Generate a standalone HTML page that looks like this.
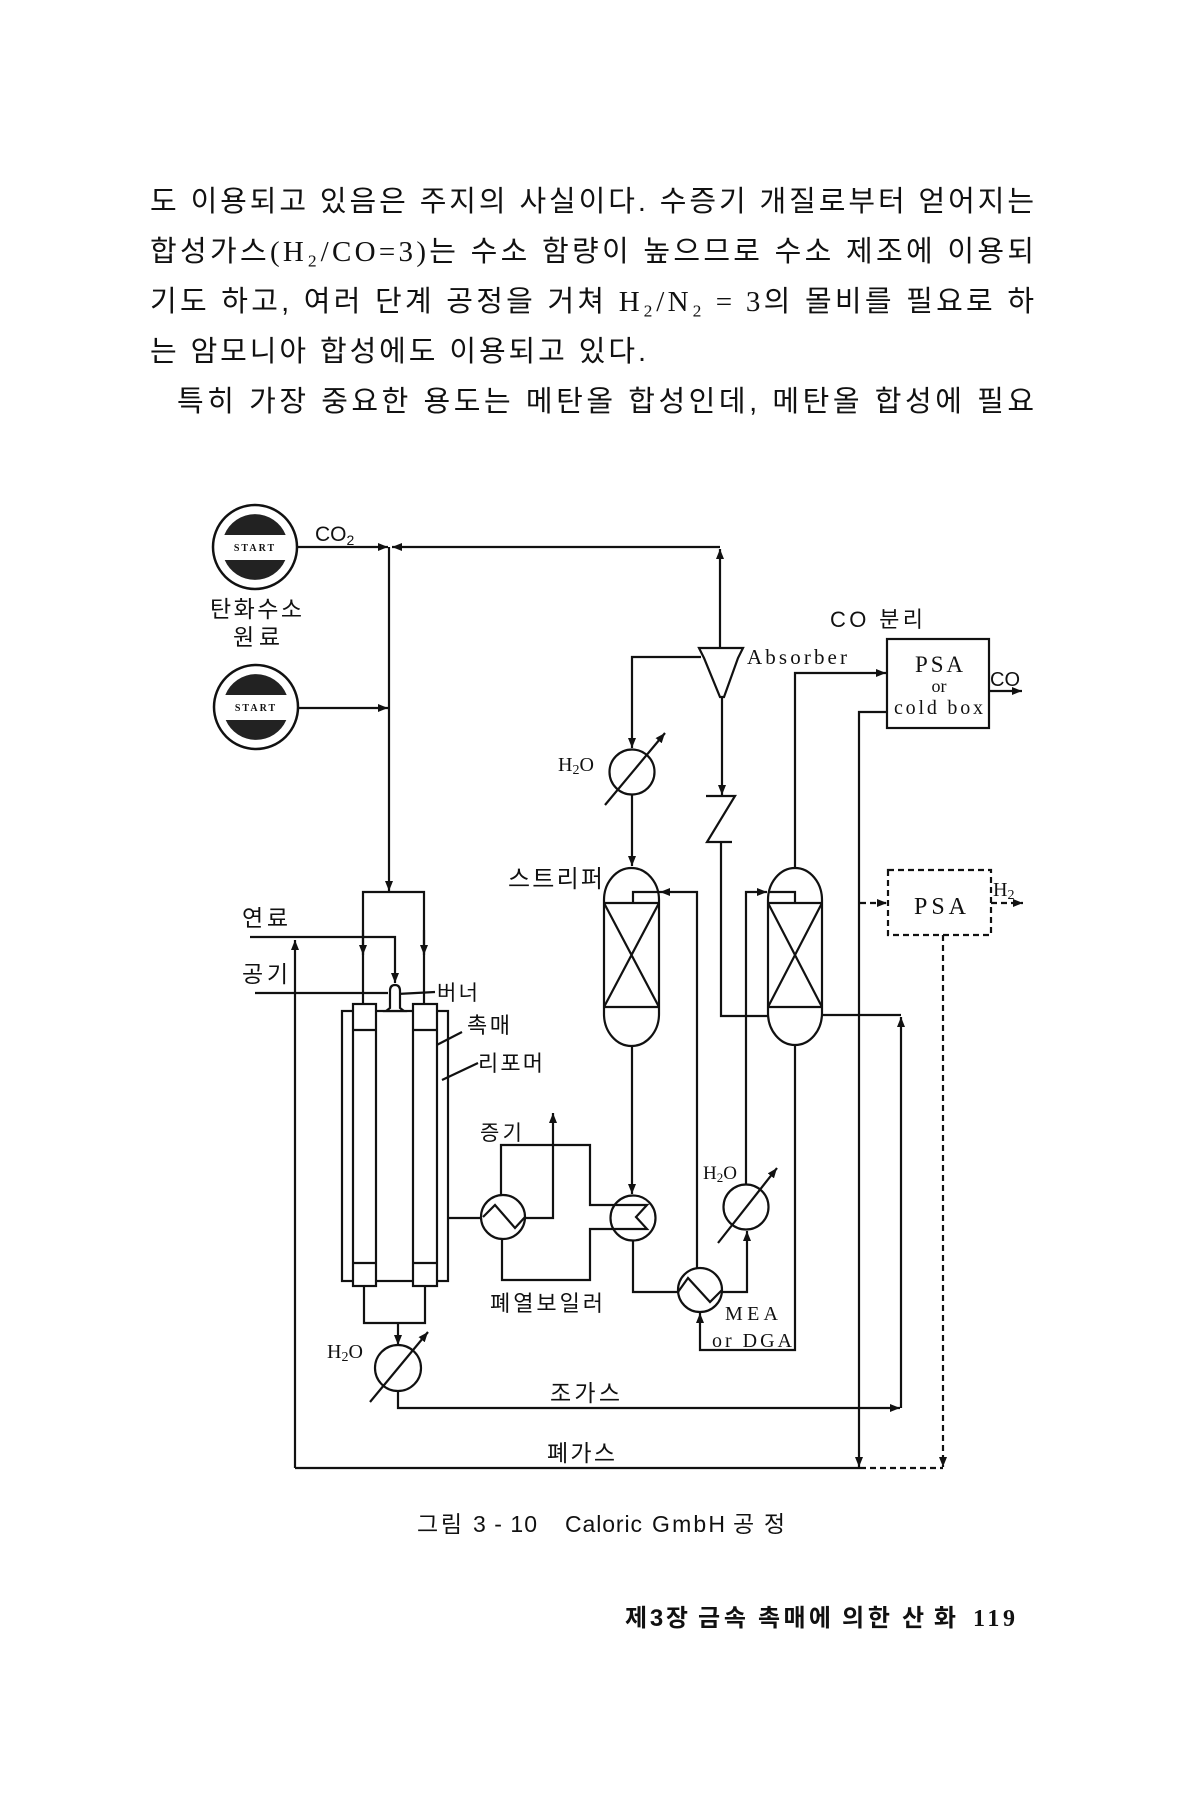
<!DOCTYPE html>
<html><head><meta charset="utf-8">
<style>
html,body{margin:0;padding:0;background:#fff;}
svg{display:block;}
.k{font-family:"Liberation Sans","Noto Sans CJK KR",sans-serif;}
.s{font-family:"Liberation Serif","Noto Serif CJK SC",serif;}
</style></head>
<body>
<svg width="1200" height="1800" viewBox="0 0 1200 1800" xmlns="http://www.w3.org/2000/svg">
<defs>
<marker id="ah" viewBox="0 0 10 8" refX="10" refY="4" markerWidth="10" markerHeight="8" markerUnits="userSpaceOnUse" orient="auto"><path d="M0,0 L10,4 L0,8 Z" fill="#111"/></marker>
</defs>
<rect width="1200" height="1800" fill="#fff"/>

<!-- paragraph -->
<g class="k" font-size="29" fill="#111">
<text x="150" y="211" textLength="884" lengthAdjust="spacing">도 이용되고 있음은 주지의 사실이다. 수증기 개질로부터 얻어지는</text>
<text x="150" y="261" textLength="884" lengthAdjust="spacing">합성가스<tspan class="s">(H₂/CO=3)</tspan>는 수소 함량이 높으므로 수소 제조에 이용되</text>
<text x="150" y="311" textLength="884" lengthAdjust="spacing">기도 하고, 여러 단계 공정을 거쳐 <tspan class="s">H₂/N₂ = 3</tspan>의 몰비를 필요로 하</text>
<text x="150" y="361" textLength="496" lengthAdjust="spacing">는 암모니아 합성에도 이용되고 있다.</text>
<text x="177" y="411" textLength="857" lengthAdjust="spacing">특히 가장 중요한 용도는 메탄올 합성인데, 메탄올 합성에 필요</text>
</g>

<!-- START circles -->
<g>
<circle cx="255" cy="547" r="42" fill="#fff" stroke="#111" stroke-width="2.5"/>
<path d="M224.3,535 A33,33 0 0 1 285.7,535 Z" fill="#222"/>
<path d="M224.7,560 A33,33 0 0 0 285.3,560 Z" fill="#222"/>
<text x="255" y="551" text-anchor="middle" class="s" font-size="10" font-weight="bold" letter-spacing="2" fill="#111">START</text>
<circle cx="256" cy="707" r="42" fill="#fff" stroke="#111" stroke-width="2.5"/>
<path d="M225.3,695 A33,33 0 0 1 286.7,695 Z" fill="#222"/>
<path d="M225.7,720 A33,33 0 0 0 286.3,720 Z" fill="#222"/>
<text x="256" y="711" text-anchor="middle" class="s" font-size="10" font-weight="bold" letter-spacing="2" fill="#111">START</text>
</g>

<!-- solid lines -->
<g stroke="#111" stroke-width="2.2" fill="none">
<path d="M297,547 L388,547" marker-end="url(#ah)"/>
<path d="M720,547 L392,547" marker-end="url(#ah)"/>
<path d="M720,648 L720,549" marker-end="url(#ah)"/>
<path d="M389,547 L389,891" marker-end="url(#ah)"/>
<path d="M298,708 L388,708" marker-end="url(#ah)"/>
<!-- mixer -->
<path d="M363,1004 L363,892 L424,892 L424,1004"/>
<path d="M363,930 L363,955" marker-end="url(#ah)"/>
<path d="M424,930 L424,955" marker-end="url(#ah)"/>
<!-- fuel / air -->
<path d="M250,937 L395,937 L395,983" marker-end="url(#ah)"/>
<path d="M255,993 L388,993"/>
<!-- left return -->
<path d="M295,1468 L295,940" marker-end="url(#ah)"/>
<path d="M295,1468 L860,1468"/>
<!-- cold box exit line -->
<path d="M887,712 L859,712 L859,1467" marker-end="url(#ah)"/>
<!-- raw gas -->
<path d="M398,1391 L398,1408 L900,1408" marker-end="url(#ah)"/>
<path d="M901,1408 L901,1017" marker-end="url(#ah)"/>
<path d="M822,1015 L901,1015"/>
<!-- absorber feed -->
<path d="M701,657 L632,657 L632,748" marker-end="url(#ah)"/>
<path d="M632,795 L632,866" marker-end="url(#ah)"/>
<!-- absorber bottom + check valve -->
<path d="M722,697 L722,795" marker-end="url(#ah)"/>
<path d="M706,796 L735,796 L707,842 L732,842"/>
<path d="M721,842 L721,1016 L768,1016"/>
<!-- tower2 to PSA -->
<path d="M795,868 L795,673 L886,673" marker-end="url(#ah)"/>
<path d="M989,691 L1022,691" marker-end="url(#ah)"/>
<!-- stripper overhead -->
<path d="M697,1268 L697,892 L660,892" marker-end="url(#ah)"/>
<path d="M660,892 L633,892 L633,903"/>
<path d="M632,1046 L632,1194" marker-end="url(#ah)"/>
<path d="M633,1240 L633,1292 L678,1292"/>
<path d="M722,1292 L747,1292 L747,1231" marker-end="url(#ah)"/>
<path d="M746,1185 L746,892 L767,892" marker-end="url(#ah)"/>
<path d="M768,892 L795,892 L795,903"/>
<path d="M795,1045 L795,1350 L700,1350 L700,1313" marker-end="url(#ah)"/>
<!-- boiler -->
<path d="M448,1218 L481,1218"/>
<path d="M525,1218 L553,1218 L553,1113" marker-end="url(#ah)"/>
<path d="M501,1195 L501,1145 L590,1145 L590,1205 L647,1205 L636,1217 L647,1229 L590,1229 L590,1280 L502,1280 L502,1239"/>
<!-- reformer bottom -->
<path d="M364,1286 L364,1323 L425,1323 L425,1286"/>
<path d="M398,1323 L398,1345" marker-end="url(#ah)"/>
<!-- leaders -->
<path d="M397,994 L435,992"/>
<path d="M462,1032 L427,1050"/>
<path d="M478,1063 L442,1080"/>

<!-- circles -->
<circle cx="632" cy="772" r="22.5"/>
<path d="M605,805 L665,733" marker-end="url(#ah)"/>
<circle cx="633" cy="1218" r="22.5"/>
<circle cx="700" cy="1290" r="22"/>
<path d="M678,1292 L688,1278 L710,1302 L722,1290"/>
<circle cx="746" cy="1207" r="22.5"/>
<path d="M718,1243 L777,1168" marker-end="url(#ah)"/>
<circle cx="503" cy="1217" r="22"/>
<path d="M483,1217 L495,1205 L515,1228 L525,1217"/>
<circle cx="398" cy="1368" r="23"/>
<path d="M370,1402 L428,1332" marker-end="url(#ah)"/>

<!-- absorber funnel -->
<path d="M699,648 L743,648 L738,658 L724,697 L720,697 L704,658 Z"/>

<!-- towers -->
<path d="M604,900 A27.5,32 0 0 1 659,900 L659,1014 A27.5,32 0 0 1 604,1014 Z"/>
<path d="M604,903 L659,903 M604,1007 L659,1007 M604,903 L659,1007 M659,903 L604,1007"/>
<path d="M768,900 A27,32 0 0 1 822,900 L822,1013 A27,32 0 0 1 768,1013 Z"/>
<path d="M768,903 L822,903 M768,1007 L822,1007 M768,903 L822,1007 M822,903 L768,1007"/>

<!-- PSA box -->
<rect x="887" y="639" width="102" height="89"/>

<!-- reformer -->
<rect x="342" y="1011" width="106" height="270"/>
<rect x="353" y="1004" width="23" height="282" fill="#fff"/>
<rect x="413" y="1004" width="24" height="282" fill="#fff"/>
<path d="M353,1030 L376,1030 M353,1263 L376,1263 M413,1030 L437,1030 M413,1263 L437,1263"/>
<path d="M390,1008 L390,991 Q390,985 395,985 Q400,985 400,991 L400,1008 L404,1011 L386,1011 Z" fill="#fff"/>
</g>

<!-- dashed -->
<g stroke="#111" stroke-width="2.2" fill="none" stroke-dasharray="6,4">
<rect x="888" y="870" width="103" height="65"/>
<path d="M860,903 L887,903" marker-end="url(#ah)"/>
<path d="M991,903 L1023,903" marker-end="url(#ah)"/>
<path d="M943,935 L943,1467" marker-end="url(#ah)"/>
<path d="M860,1468 L943,1468"/>
</g>

<!-- labels -->
<g fill="#111">
<text x="315" y="541" class="k" font-size="21">CO<tspan font-size="14" dy="4">2</tspan></text>
<text x="210" y="617" class="k" font-size="23" textLength="92" lengthAdjust="spacing">탄화수소</text>
<text x="233" y="645" class="k" font-size="23" textLength="47" lengthAdjust="spacing">원료</text>
<text x="558" y="771" class="s" font-size="20">H<tspan font-size="14" dy="3">2</tspan><tspan dy="-3">O</tspan></text>
<text x="508" y="887" class="k" font-size="24" textLength="95" lengthAdjust="spacing">스트리퍼</text>
<text x="747" y="664" class="s" font-size="21" textLength="100" lengthAdjust="spacing">Absorber</text>
<text x="830" y="627" class="k" font-size="22" textLength="93" lengthAdjust="spacing">CO 분리</text>
<text x="915" y="672" class="s" font-size="23" textLength="48" lengthAdjust="spacing">PSA</text>
<text x="939" y="692" class="s" font-size="18" text-anchor="middle">or</text>
<text x="894" y="714" class="s" font-size="20" textLength="89" lengthAdjust="spacing">cold box</text>
<text x="990" y="686" class="k" font-size="20">CO</text>
<text x="242" y="926" class="k" font-size="23" textLength="46" lengthAdjust="spacing">연료</text>
<text x="242" y="982" class="k" font-size="23" textLength="46" lengthAdjust="spacing">공기</text>
<text x="437" y="1000" class="k" font-size="21" textLength="41" lengthAdjust="spacing">버너</text>
<text x="467" y="1033" class="k" font-size="22" textLength="43" lengthAdjust="spacing">촉매</text>
<text x="478" y="1071" class="k" font-size="22" textLength="65" lengthAdjust="spacing">리포머</text>
<text x="480" y="1140" class="k" font-size="21" textLength="42" lengthAdjust="spacing">증기</text>
<text x="703" y="1179" class="s" font-size="19">H<tspan font-size="13" dy="3">2</tspan><tspan dy="-3">O</tspan></text>
<text x="725" y="1320" class="s" font-size="20" textLength="53" lengthAdjust="spacing">MEA</text>
<text x="712" y="1347" class="s" font-size="20" textLength="80" lengthAdjust="spacing">or DGA</text>
<text x="490" y="1311" class="k" font-size="22" textLength="113" lengthAdjust="spacing">폐열보일러</text>
<text x="327" y="1358" class="s" font-size="20">H<tspan font-size="14" dy="3">2</tspan><tspan dy="-3">O</tspan></text>
<text x="550" y="1401" class="k" font-size="23" textLength="70" lengthAdjust="spacing">조가스</text>
<text x="547" y="1461" class="k" font-size="23" textLength="68" lengthAdjust="spacing">폐가스</text>
<text x="914" y="914" class="s" font-size="24" textLength="52" lengthAdjust="spacing">PSA</text>
<text x="993" y="896" class="s" font-size="20">H<tspan font-size="14" dy="3">2</tspan></text>
</g>

<!-- caption -->
<g fill="#111" class="k" font-size="23">
<text x="417" y="1532" textLength="45" lengthAdjust="spacing">그림</text>
<text x="473" y="1532" textLength="64" lengthAdjust="spacing">3 - 10</text>
<text x="565" y="1532" textLength="77" lengthAdjust="spacing">Caloric</text>
<text x="652" y="1532" textLength="73" lengthAdjust="spacing">GmbH</text>
<text x="733" y="1532" textLength="52" lengthAdjust="spacing">공정</text>
</g>

<!-- footer -->
<g fill="#111" class="k" font-size="24" font-weight="bold">
<text x="625" y="1626" textLength="63" lengthAdjust="spacing">제3장</text>
<text x="698" y="1626" textLength="48" lengthAdjust="spacing">금속</text>
<text x="758" y="1626" textLength="73" lengthAdjust="spacing">촉매에</text>
<text x="842" y="1626" textLength="48" lengthAdjust="spacing">의한</text>
<text x="902" y="1626" textLength="54" lengthAdjust="spacing">산화</text>
<text x="973" y="1626" class="s" textLength="42" lengthAdjust="spacing">119</text>
</g>
</svg>
</body></html>
